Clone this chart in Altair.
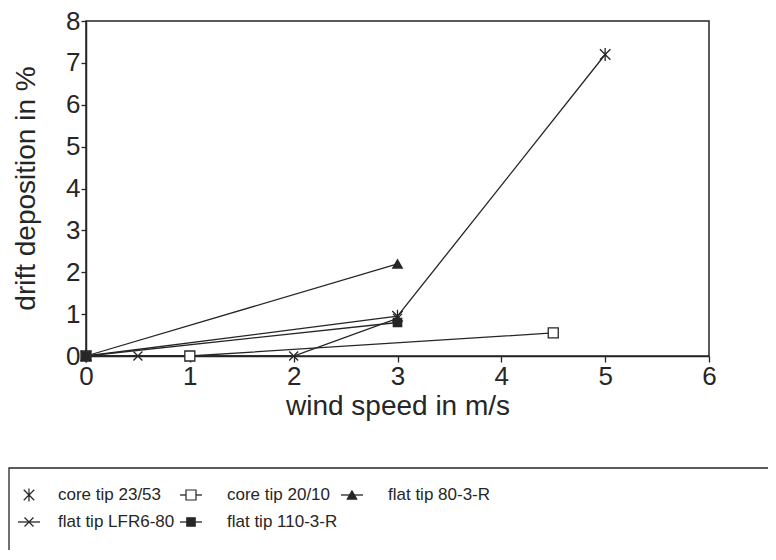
import altair as alt
import pandas as pd

# ---- data ----
series = ["core tip 23/53", "core tip 20/10", "flat tip 80-3-R", "flat tip LFR6-80", "flat tip 110-3-R"]
x_core_23_53 = [0, 3, 5]
y_core_23_53 = [0, 0.95, 7.2]
x_core_20_10 = [0, 1, 4.5]
y_core_20_10 = [0, 0, 0.55]
x_flat_80 = [0, 3]
y_flat_80 = [0, 2.2]
x_flat_lfr = [0, 0.5, 2, 3]
y_flat_lfr = [0, 0, 0, 0.9]
x_flat_110 = [0, 3]
y_flat_110 = [0, 0.8]
x_ticks = [0, 1, 2, 3, 4, 5, 6]
y_ticks = [0, 1, 2, 3, 4, 5, 6, 7, 8]

xs = [x_core_23_53, x_core_20_10, x_flat_80, x_flat_lfr, x_flat_110]
ys = [y_core_23_53, y_core_20_10, y_flat_80, y_flat_lfr, y_flat_110]

rows = []
for s, xv, yv in zip(series, xs, ys):
    for a, b in zip(xv, yv):
        rows.append({"series": s, "x": a, "y": b})
df = pd.DataFrame(rows)

# ---- styles ----
INK = "#262626"
asterisk = "M-1,-1L1,1M-1,1L1,-1M0,-1.25L0,1.25"
xcross = "M-1,-1L1,1M-1,1L1,-1"
shape_scale = alt.Scale(domain=series, range=[asterisk, "square", "triangle-up", xcross, "square"])
fill_scale = alt.Scale(domain=series, range=["transparent", "white", INK, "transparent", INK])
size_scale = alt.Scale(domain=series, range=[110, 70, 150, 90, 95])

x_enc = alt.X("x:Q", scale=alt.Scale(domain=[0, 6], nice=False),
              axis=alt.Axis(values=x_ticks, title="wind speed in m/s", grid=False,
                            tickSize=6, labelPadding=1, titlePadding=3, format="d",
                            labelFlush=False, labelOverlap=False))
y_enc = alt.Y("y:Q", scale=alt.Scale(domain=[0, 8], nice=False),
              axis=alt.Axis(values=y_ticks, title="drift deposition in %", grid=False,
                            tickSize=5, labelPadding=1, format="d", labelOverlap=False,
                            titleX=-60, titleY=167, titleBaseline="middle", titleAlign="center"))

lines = alt.Chart(df).mark_line(color=INK, strokeWidth=1.3).encode(
    x=x_enc, y=y_enc, detail="series:N", order="x:Q")

points = alt.Chart(df).mark_point(stroke=INK, strokeWidth=1.3, opacity=1).encode(
    x="x:Q", y="y:Q",
    shape=alt.Shape("series:N", scale=shape_scale, legend=None),
    fill=alt.Fill("series:N", scale=fill_scale, legend=None),
    size=alt.Size("series:N", scale=size_scale, legend=None),
)

# ---- hand-drawn legend box below the plot ----
col_sym = [-57, 105, 266]
col_txt = [-28, 141, 302]
row_y = [474, 501]
has_line = [False, True, True, True, True]
leg = pd.DataFrame({
    "series": series,
    "sx": [col_sym[i % 3] for i in range(len(series))],
    "tx": [col_txt[i % 3] for i in range(len(series))],
    "ly": [row_y[i // 3] for i in range(len(series))],
    "line": has_line,
})
leg["x1"] = leg["sx"] - 11
leg["x2"] = leg["sx"] + 11

box = alt.Chart(pd.DataFrame({"a": [0]})).mark_rect(
    fill="transparent", stroke=INK, strokeWidth=1.3).encode(
    x=alt.value(-77), x2=alt.value(720), y=alt.value(447), y2=alt.value(600))

leg_lines = alt.Chart(leg).transform_filter("datum.line").mark_rule(
    color=INK, strokeWidth=1.3).encode(
    x=alt.X("x1:Q", scale=None), x2="x2:Q", y=alt.Y("ly:Q", scale=None))

leg_pts = alt.Chart(leg).mark_point(stroke=INK, strokeWidth=1.2, opacity=1).encode(
    x=alt.X("sx:Q", scale=None), y=alt.Y("ly:Q", scale=None),
    shape=alt.Shape("series:N", scale=shape_scale, legend=None),
    fill=alt.Fill("series:N", scale=fill_scale, legend=None),
    size=alt.Size("series:N", scale=size_scale, legend=None),
)

leg_txt = alt.Chart(leg).mark_text(
    align="left", baseline="middle", fontSize=17, color=INK,
    font="Liberation Sans").encode(
    x=alt.X("tx:Q", scale=None), y=alt.Y("ly:Q", scale=None), text="series:N")

chart = alt.layer(lines, points, box, leg_lines, leg_pts, leg_txt).properties(
    width=623, height=335,
    autosize=alt.AutoSizeParams(type="none"),
    padding={"left": 78, "top": 13, "right": 59, "bottom": 194},
    background="white",
).configure_view(stroke=INK, strokeWidth=1.5).configure_axis(
    labelFont="Liberation Sans", titleFont="Liberation Sans",
    labelFontSize=26, titleFontSize=28, titleFontWeight="normal",
    labelColor=INK, titleColor=INK, domainColor=INK, tickColor=INK,
    domainWidth=1.5, tickWidth=1.3,
)

chart.save("out.html", embed_options={"renderer": "svg", "actions": False})
